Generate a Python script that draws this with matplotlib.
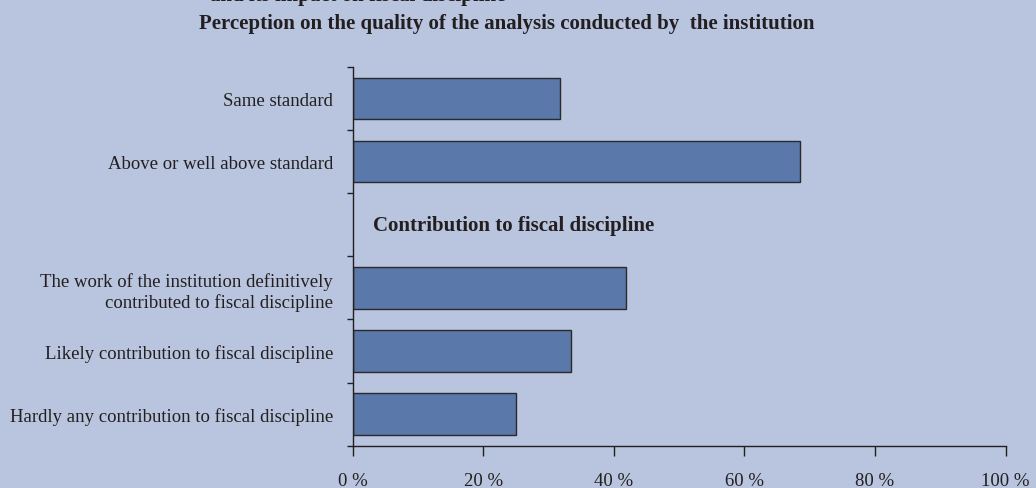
import matplotlib.pyplot as plt
from matplotlib.ticker import FixedLocator
import numpy as np

plt.rcParams['font.family'] = ['Liberation Serif', 'DejaVu Serif']

# categories top to bottom; the empty slot holds the section heading
categories = [
    'Same standard',
    'Above or well above standard',
    '',
    'The work of the institution definitively\ncontributed to fiscal discipline',
    'Likely contribution to fiscal discipline',
    'Hardly any contribution to fiscal discipline',
]
values = [31.7, 68.5, np.nan, 41.8, 33.4, 25.1]
x_ticks = [0, 20, 40, 60, 80, 100]
x_labels = ['0 %', '20 %', '40 %', '60 %', '80 %', '100 %']

title = 'Perception on the quality of the analysis conducted by  the institution'
section = 'Contribution to fiscal discipline'
cut_title = 'and its impact on fiscal discipline'

bg = '#b9c4de'
bar_col = '#5a78aa'
txt = '#231f20'

fig = plt.figure(figsize=(10.36, 4.89), dpi=100)
fig.patch.set_facecolor(bg)
ax = fig.add_axes([0.3403, 0.0865, 0.6303, 0.7745])
ax.set_facecolor(bg)

ypos = np.arange(len(categories))
ax.barh(ypos, values, height=0.66, color=bar_col, edgecolor='#2a2a2a', linewidth=1)

ax.set_xlim(0, 100)
ax.set_ylim(len(categories) - 0.5, -0.5)

ax.set_yticks(ypos)
ax.set_yticklabels(categories, fontsize=13.5, color=txt)
ax.yaxis.set_minor_locator(FixedLocator(np.arange(-0.5, len(categories), 1)))
ax.tick_params(axis='y', which='major', length=0, pad=14)
ax.tick_params(axis='y', which='minor', length=4, width=1, color=txt)

ax.set_xticks(x_ticks)
ax.set_xticklabels(x_labels, fontsize=13.5, color=txt)
ax.tick_params(axis='x', length=7, width=1, color=txt, pad=12)

for s in ['top', 'right']:
    ax.spines[s].set_visible(False)
for s in ['left', 'bottom']:
    ax.spines[s].set_color(txt)
    ax.spines[s].set_linewidth(1)

ax.text(3.1, 2, section, fontsize=15, fontweight='bold', color=txt, va='center', ha='left')

fig.text(0.489, 1 - 24 / 489, title, fontsize=15, fontweight='bold', color=txt,
         ha='center', va='center')
# heading of the page above, mostly cut off in the reference
fig.text(0.488, 1 - 1.5 / 489, cut_title, fontsize=15, fontweight='bold', color=txt,
         ha='right', va='baseline')

fig.savefig('out.png', dpi=100, facecolor=bg)
